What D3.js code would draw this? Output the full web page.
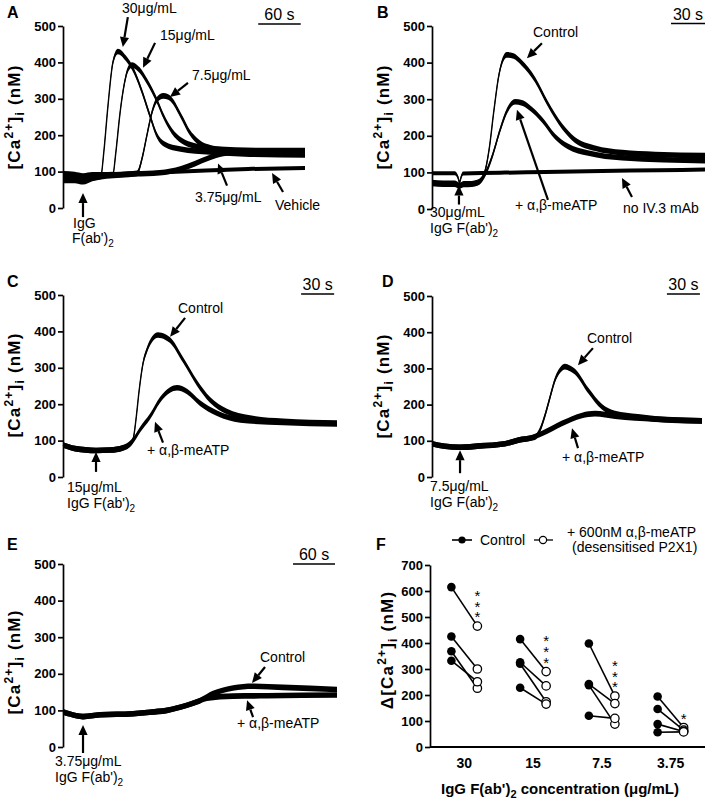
<!DOCTYPE html>
<html><head><meta charset="utf-8">
<script src="https://cdn.jsdelivr.net/npm/d3@7"></script>
<style>
body{margin:0;background:#fff;}
svg{font-family:"Liberation Sans",Arial,sans-serif;}
</style></head><body>
<svg id="c" width="710" height="800"></svg>
<script>
// ---------------- DATA ----------------
const caTicks = [0,100,200,300,400,500];
const fTicks = [0,100,200,300,400,500,600,700];

// Panel A (time in s, [Ca2+]i nM)
const a30 = [[0,80],[15,79],[27,75],[40,83],[52,87],[56,150],[62,280],[69,400],[76,430],[87,412],[99,375],[110,320],[121,255],[131,200],[142,175],[164,162],[206,154],[262,148],[340,146]];
const a15 = [[0,90],[15,88],[27,84],[40,90],[55,91],[69,92],[73,150],[79,260],[85,340],[90,380],[96,393],[107,378],[118,345],[130,300],[141,250],[152,212],[166,185],[185,170],[213,162],[276,158],[340,158]];
const a75 = [[0,76],[15,76],[27,72],[40,81],[60,88],[80,91],[103,95],[110,135],[117,200],[124,262],[131,297],[140,308],[147,305],[154,292],[161,268],[168,242],[175,215],[182,196],[192,178],[202,168],[230,158],[276,153],[340,152]];
const a375 = [[0,94],[15,92],[27,88],[40,91],[60,91],[100,94],[135,97],[165,108],[185,122],[205,138],[225,150],[250,154],[340,150]];
const aVehicle = [[0,86],[15,85],[27,82],[40,86],[60,89],[100,93],[150,99],[200,103],[260,107],[340,110]];

// Panel B
const bNoIV3 = [[0,98],[20,98],[23,86],[24.3,72],[25.6,86],[27.4,97],[60,99],[100,101],[150,104],[200,106],[241,108]];
const bControl = [[0,72],[10,70],[20,70],[24.3,64],[28,69],[35,69],[40.6,73],[46,95],[50.3,160],[54.7,270],[59,365],[66,421],[72,418],[79,400],[91,353],[102,289],[115,225],[126,189],[144,166],[168,154],[197,149],[241,146]];
const bMeATP = [[0,70],[10,68],[20,68],[24.3,63],[28,67],[35,68],[40.6,72],[47.7,100],[53.8,150],[60,215],[66.2,268],[73.3,293],[79.4,290],[86.5,276],[97.1,244],[108.6,198],[120,171],[137.7,153],[167.7,140],[241,132]];

// Panel C
const cControl = [[0,88],[11,78],[30,73],[43,74],[54.5,80],[60,88],[63.6,102],[66.4,160],[69.1,235],[72.7,312],[76.4,350],[80.9,378],[86.4,390],[92.7,385],[97.3,376],[109,322],[121.8,258],[133.6,212],[149,180],[170,162],[200,153],[249,148]];
const cMeATP = [[0,88],[11,78],[30,73],[43,74],[54.5,80],[58,85],[63.6,100],[70,130],[79,166],[88.2,212],[97.3,239],[103.6,245],[112.7,235],[124.5,203],[140,175],[161,157],[200,150],[249,146]];

// Panel D
const dControl = [[0,92],[11.8,85],[25.5,82],[43.6,86],[66.4,92],[81.8,104],[93.6,110],[98.2,130],[102.7,170],[107.3,220],[111.8,268],[116.4,295],[120.9,305],[125.5,300],[130,291],[141.8,240],[154.5,194],[166.4,175],[187.3,166],[218.2,157],[245.5,155]];
const dMeATP = [[0,92],[11.8,85],[25.5,82],[43.6,86],[66.4,92],[81.8,104],[87.3,106],[100,120],[118.2,148],[136.4,170],[148.2,175],[166.4,168],[202.7,160],[245.5,155]];

// Panel E
const eControl = [[0,96],[10,90],[28.6,83],[52.9,88],[100,91],[124,95],[148.6,100],[160,105],[177,114],[195.7,127],[214,146],[228.6,155],[242.9,161],[271.4,166],[314,163],[391.4,157]];
const eMeATP = [[0,96],[10,90],[28.6,83],[52.9,88],[100,91],[124,95],[148.6,100],[160,105],[177,114],[195.7,126],[205.7,133],[242.9,139],[291.4,140],[391.4,142]];

// Panel F
const fCategories = ["30","15","7.5","3.75"];
const fControl = [[615,425,368,332],[415,326,320,228],[398,242,238,120],[194,146,88,57]];
const fMeATP   = [[465,300,226,251],[290,235,174,165],[196,167,88,110],[75,65,60,58]];
const fSignif = ["***","***","***","*"];

// ---------------- DRAWING ----------------
const svg = d3.select("#c");
svg.append("rect").attr("width",710).attr("height",800).attr("fill","#fff");

function arrow(g, tx, ty, fx, fy){
  const ang = Math.atan2(ty-fy, tx-fx), L = 10, W = 4.6;
  const bx = tx - L*Math.cos(ang), by = ty - L*Math.sin(ang);
  g.append("line").attr("x1",fx).attr("y1",fy).attr("x2",bx).attr("y2",by)
    .attr("stroke","#000").attr("stroke-width",2.2);
  g.append("path").attr("d",`M${tx},${ty}L${bx+W*Math.sin(ang)},${by-W*Math.cos(ang)}L${bx-W*Math.sin(ang)},${by+W*Math.cos(ang)}Z`)
    .attr("fill","#000");
}
function label(g, x, y, txt, opt={}){
  const t = g.append("text").attr("x",x).attr("y",y).attr("font-size",opt.size||14)
    .attr("text-anchor",opt.anchor||"start").attr("font-weight",opt.bold?"bold":"normal").attr("fill","#000");
  if(opt.sub){ t.append("tspan").text(txt); t.append("tspan").attr("dy",4).attr("font-size",10).text(opt.sub); }
  else t.text(txt);
  return t;
}
function caLabel(g, x, cy, delta){
  const t = g.append("text").attr("transform",`translate(${x},${cy}) rotate(-90)`)
    .attr("text-anchor","middle").attr("font-weight","bold").attr("font-size",17)
    .attr("letter-spacing",1.2).attr("fill","#000");
  t.append("tspan").text((delta?"Δ":"")+"[Ca");
  t.append("tspan").attr("dy",-7).attr("font-size",12).text("2+");
  t.append("tspan").attr("dy",7).text("]");
  t.append("tspan").attr("dy",4).attr("font-size",12).text("i");
  t.append("tspan").attr("dy",-4).text(" (nM)");
}
function yAxis(g, y, x, ticks){
  const ax = g.append("g").attr("transform",`translate(${x},0)`)
    .call(d3.axisLeft(y).tickValues(ticks).tickSize(5).tickSizeOuter(0).tickPadding(2).tickFormat(d3.format("d")));
  ax.select(".domain").attr("stroke","#000").attr("stroke-width",1.7);
  ax.selectAll(".tick line").attr("stroke","#000").attr("stroke-width",1.7);
  ax.selectAll(".tick text").attr("font-size",13).attr("font-weight","bold").attr("fill","#000")
    .attr("font-family","Liberation Sans, Arial, sans-serif");
}
function trace(g, data, x, y, half){
  const area = d3.area().x(d=>x(d[0])).y0(d=>y(d[1])+half).y1(d=>y(d[1])-half).curve(d3.curveMonotoneX);
  const line = d3.line().x(d=>x(d[0])).y(d=>y(d[1])).curve(d3.curveMonotoneX);
  g.append("path").attr("d",area(data)).attr("fill","#000");
  g.append("path").attr("d",line(data)).attr("fill","none").attr("stroke","#000").attr("stroke-width",1.4);
}
function scaleBar(g, x, t0, secs, yBar){
  g.append("line").attr("x1",x(t0)).attr("x2",x(t0+secs)).attr("y1",yBar).attr("y2",yBar)
    .attr("stroke","#000").attr("stroke-width",1.7);
  label(g, (x(t0)+x(t0+secs))/2, yBar-4, secs+" s", {anchor:"middle", size:16});
}
function panel(cfg){
  const g = svg.append("g");
  const x = d3.scaleLinear().domain([0,cfg.tMax]).range([cfg.x0,cfg.x1]);
  const y = d3.scaleLinear().domain([0,500]).range([cfg.yBot,cfg.yTop]);
  yAxis(g, y, cfg.axisX, caTicks);
  caLabel(g, cfg.labX, cfg.labY, false);
  label(g, cfg.letX, cfg.letY, cfg.letter, {bold:true, size:16});
  cfg.traces.forEach(tr=>trace(g, tr[0], x, y, tr[1]));
  scaleBar(g, x, cfg.bar[0], cfg.bar[1], cfg.bar[2]);
  cfg.arrows.forEach(a=>{ const tx=x(a[0]), ty=y(a[1]); arrow(g, tx, ty, tx+a[2], ty+a[3]); });
  cfg.texts.forEach(t=>label(g, t[0], t[1], t[2], t[3]||{}));
}

panel({letter:"A", letX:7, letY:18, axisX:63, x0:64, x1:305, tMax:340, yTop:26, yBot:208, labX:20, labY:117,
  traces:[[aVehicle,2.0],[a375,2.8],[a75,2.8],[a15,2.8],[a30,2.8]],
  bar:[274,60,24],
  arrows:[[83,442,5,-30],[111.5,385,12,-25],[149.5,305,18,-14],[217.3,122,9,22],[293.5,96,11,19],[26.8,41,0,24]],
  texts:[[122,13,"30μg/mL"],[160,40,"15μg/mL"],[192,80,"7.5μg/mL"],[195,202,"3.75μg/mL"],[275,210,"Vehicle"],[73,228,"IgG"],[72,243,"F(ab')",{sub:"2"}]]
});
panel({letter:"B", letX:377, letY:18, axisX:432, x0:432, x1:705, tMax:241, yTop:26, yBot:209, labX:389, labY:117,
  traces:[[bNoIV3,2.0],[bMeATP,2.8],[bControl,2.8]],
  bar:[211,30,23.5],
  arrows:[[83.8,412,15,-15],[75,271,31,90],[167.7,85,10,19],[23.8,64,0,19]],
  texts:[[533,37,"Control"],[515,210,"+ α,β-meATP"],[623,213,"no IV.3 mAb"],[430,217,"30μg/mL"],[430,233,"IgG F(ab')",{sub:"2"}]]
});
panel({letter:"C", letX:7, letY:287, axisX:63, x0:63, x1:337, tMax:249, yTop:295, yBot:477, labX:20, labY:385,
  traces:[[cMeATP,2.8],[cControl,2.8]],
  bar:[216.4,30,294],
  arrows:[[97.3,385,15,-19],[83.6,152,8,21],[30,69,0,20]],
  texts:[[178,313,"Control"],[147,455,"+ α,β-meATP"],[67,492,"15μg/mL"],[67,508,"IgG F(ab')",{sub:"2"}]]
});
panel({letter:"D", letX:382, letY:287, axisX:432, x0:432, x1:702, tMax:245.5, yTop:296, yBot:477, labX:389, labY:386,
  traces:[[dMeATP,2.8],[dControl,2.8]],
  bar:[213.6,30,294],
  arrows:[[132.7,309,15,-17],[127.3,135,6,20],[25.5,74,0,23]],
  texts:[[587,343,"Control"],[562,462,"+ α,β-meATP"],[430,491,"7.5μg/mL"],[430,507,"IgG F(ab')",{sub:"2"}]]
});
panel({letter:"E", letX:7, letY:550, axisX:63, x0:63, x1:337, tMax:391.4, yTop:564, yBot:747, labX:20, labY:662,
  traces:[[eMeATP,2.8],[eControl,2.8]],
  bar:[328.6,60,564],
  arrows:[[270,175,13,-16],[262.9,128,6,17],[28.6,60,0,28]],
  texts:[[260,662,"Control"],[237,728,"+ α,β-meATP"],[55,766,"3.75μg/mL"],[55,782,"IgG F(ab')",{sub:"2"}]]
});

// Panel F
(function(){
  const g = svg.append("g");
  const x = d3.scalePoint().domain(fCategories).range([430,705]).padding(0.5);
  const y = d3.scaleLinear().domain([0,700]).range([747,565]);
  const off = 13;
  yAxis(g, y, 430, fTicks);
  g.append("line").attr("x1",430).attr("x2",705).attr("y1",y(0)).attr("y2",y(0)).attr("stroke","#000").attr("stroke-width",1.8);
  caLabel(g, 393, 650, true);
  label(g, 376, 550, "F", {bold:true, size:16});
  fCategories.forEach((c,i)=>{
    label(g, x(c), 768, c, {anchor:"middle", bold:true, size:14});
    fControl[i].forEach((v,j)=>{
      g.append("line").attr("x1",x(c)-off).attr("y1",y(v)).attr("x2",x(c)+off).attr("y2",y(fMeATP[i][j]))
        .attr("stroke","#000").attr("stroke-width",1.6);
    });
    fControl[i].forEach(v=>g.append("circle").attr("cx",x(c)-off).attr("cy",y(v)).attr("r",4.3).attr("fill","#000"));
    fMeATP[i].forEach(v=>g.append("circle").attr("cx",x(c)+off).attr("cy",y(v)).attr("r",4.2)
      .attr("fill","#fff").attr("stroke","#000").attr("stroke-width",1.3));
  });
  // significance stars: one upright vertical text column above the highest open circle
  fCategories.forEach((c,i)=>{
    const top = y(d3.max(fMeATP[i]));
    g.append("text").attr("x",x(c)+off).attr("y",top-7)
      .style("writing-mode","vertical-rl").style("text-orientation","upright")
      .attr("text-anchor","end").attr("letter-spacing",-6.3).attr("font-size",15).attr("fill","#000")
      .text(fSignif[i]);
  });
  const xl = g.append("text").attr("x",560).attr("y",794).attr("text-anchor","middle")
    .attr("font-weight","bold").attr("font-size",15).attr("fill","#000");
  xl.append("tspan").text("IgG F(ab')");
  xl.append("tspan").attr("dy",4).attr("font-size",11).text("2");
  xl.append("tspan").attr("dy",-4).text(" concentration (μg/mL)");
  // legend
  g.append("line").attr("x1",452).attr("x2",472).attr("y1",540).attr("y2",540).attr("stroke","#000").attr("stroke-width",1.6);
  g.append("circle").attr("cx",462).attr("cy",540).attr("r",3.6).attr("fill","#000");
  label(g, 480, 545, "Control");
  g.append("line").attr("x1",534).attr("x2",553).attr("y1",540).attr("y2",540).attr("stroke","#000").attr("stroke-width",1.3);
  g.append("circle").attr("cx",543).attr("cy",540).attr("r",3.6).attr("fill","#fff").attr("stroke","#000").attr("stroke-width",1.2);
  label(g, 567, 537, "+ 600nM α,β-meATP");
  label(g, 572, 552, "(desensitised P2X1)");
})();
</script>
</body></html>
